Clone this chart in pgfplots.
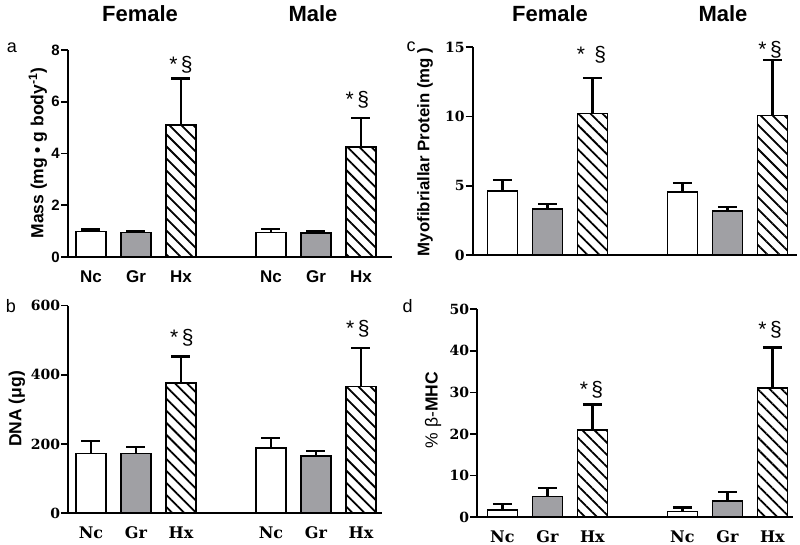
\documentclass[border=0pt]{standalone}
\usepackage{fontspec}
\setmainfont{Liberation Sans}
\newfontfamily\dvs{DejaVu Serif}
\usepackage{pgfplots}
\pgfplotsset{compat=1.18}
\usetikzlibrary{patterns.meta}
\definecolor{bargray}{RGB}{160,160,164}
\tikzset{sigmark/.style={font=\fontsize{21}{21}\selectfont}}

\pgfplotsset{
  panel/.style={
    scale only axis, x=45pt, anchor=south west,
    axis x line=bottom, axis y line=left,
    axis line style={-, line width=1.8pt, black},
    ymin=0, clip=false,
    xtick={0,1,2,4,5,6}, xticklabels={Nc,Gr,Hx,Nc,Gr,Hx},
    major x tick style={draw=none},
    major y tick style={line width=1.6pt, black},
    major tick length=7pt, tick align=outside,
    /pgf/number format/assume math mode=true,
    yticklabel style={inner xsep=1pt},
    xticklabel style={yshift=-3pt},
  },
  serifticks/.style={
    yticklabel style={font=\dvs\bfseries\fontsize{14}{14}\selectfont},
    xticklabel style={font=\dvs\bfseries\fontsize{16}{16}\selectfont},
  },
  wbar/.style={ybar, bar width=30pt, bar shift=0pt, draw=black, line width=1.6pt, fill=white,
    error bars/y dir=plus, error bars/y explicit,
    error bars/error bar style={line width=2.2pt, black},
    error bars/error mark options={line width=2.2pt, mark size=9.5pt, black, rotate=90}},
  gbar/.style={wbar, fill=bargray},
  hbar/.style={wbar, pattern={Lines[angle=-45,distance=8.5pt,line width=1.8pt]}, pattern color=black},
}

\begin{document}
\begin{tikzpicture}
\useasboundingbox (0pt,0pt) rectangle (800pt,545pt);

% ---------- panel a ----------
\begin{axis}[panel, at={(68pt,288pt)}, y=25.875pt, ymax=8, xmin=-0.511, xmax=6.69,
  ytick={0,2,4,6,8},
  yticklabel style={font=\bfseries\fontsize{15}{15}\selectfont},
  xticklabel style={font=\bfseries\fontsize{17}{17}\selectfont}]
\addplot[wbar] coordinates {(0,0.98) +- (0,0.08) (4,0.95) +- (0,0.12)};
\addplot[gbar] coordinates {(1,0.95) +- (0,0.06) (5,0.92) +- (0,0.08)};
\addplot[hbar] coordinates {(2,5.10) +- (0,1.80) (6,4.26) +- (0,1.10)};
\node[sigmark] at (axis cs:2,7.41) {*\,§};
\node[sigmark] at (axis cs:5.92,6.06) {*\,§};
\end{axis}

% ---------- panel b ----------
\begin{axis}[panel, serifticks, at={(68.3pt,31.7pt)}, y=0.346pt, ymax=600, xmin=-0.504, xmax=6.46,
  ytick={0,200,400,600}]
\addplot[wbar] coordinates {(0,173) +- (0,35) (4,188) +- (0,29)};
\addplot[gbar] coordinates {(1,173) +- (0,19) (5,166) +- (0,15)};
\addplot[hbar] coordinates {(2,377) +- (0,76) (6,366) +- (0,111)};
\node[sigmark] at (axis cs:2.02,507) {*\,§};
\node[sigmark] at (axis cs:5.93,532) {*\,§};
\end{axis}

% ---------- panel c ----------
\begin{axis}[panel, serifticks, at={(472.7pt,290pt)}, y=13.85pt, ymax=15, xmin=-0.66, xmax=6.54,
  ytick={0,5,10,15}, xtick=\empty]
\addplot[wbar] coordinates {(0,4.64) +- (0,0.75) (4,4.53) +- (0,0.65)};
\addplot[gbar] coordinates {(1,3.34) +- (0,0.34) (5,3.18) +- (0,0.26)};
\addplot[hbar] coordinates {(2,10.23) +- (0,2.53) (6,10.06) +- (0,4.00)};
\node[sigmark] at (axis cs:1.98,14.44) {*\ \,§};
\node[sigmark] at (axis cs:5.95,14.8) {*\,§};
\end{axis}

% ---------- panel d ----------
\begin{axis}[panel, serifticks, at={(477.3pt,28pt)}, y=4.154pt, ymax=50, xmin=-0.558, xmax=6.46,
  ytick={0,10,20,30,40,50}]
\addplot[wbar] coordinates {(0,1.7) +- (0,1.5) (4,1.36) +- (0,0.94)};
\addplot[gbar] coordinates {(1,4.9) +- (0,2.0) (5,3.85) +- (0,2.25)};
\addplot[hbar] coordinates {(2,20.9) +- (0,6.2) (6,31.1) +- (0,9.7)};
\node[sigmark] at (axis cs:1.98,30.6) {*\,§};
\node[sigmark] at (axis cs:5.95,45.0) {*\,§};
\end{axis}

% ---------- titles, labels ----------
\begin{scope}[every node/.style={font=\bfseries\fontsize{22}{22}\selectfont}]
\node at (140pt,531pt) {Female};
\node at (313pt,531pt) {Male};
\node at (550pt,531pt) {Female};
\node at (723pt,531pt) {Male};
\end{scope}
\begin{scope}[every node/.style={font=\fontsize{18}{18}\selectfont}]
\node at (12pt,497.5pt) {a};
\node at (11pt,239pt) {b};
\node at (411pt,498pt) {c};
\node at (407.5pt,239pt) {d};
\end{scope}
\begin{scope}[every node/.style={rotate=90, font=\bfseries\fontsize{17.5}{17.5}\selectfont}]
\node at (38pt,392pt) {Mass (mg • g body\textsuperscript{-1})};
\node at (17pt,136pt) {DNA (μg)};
\node[font=\bfseries\fontsize{16.8}{16.8}\selectfont] at (425pt,393pt) {Myofibriallar Protein (mg )};
\node at (433pt,135pt) {{\mdseries \% β-}MHC};
\end{scope}
\end{tikzpicture}
\end{document}
